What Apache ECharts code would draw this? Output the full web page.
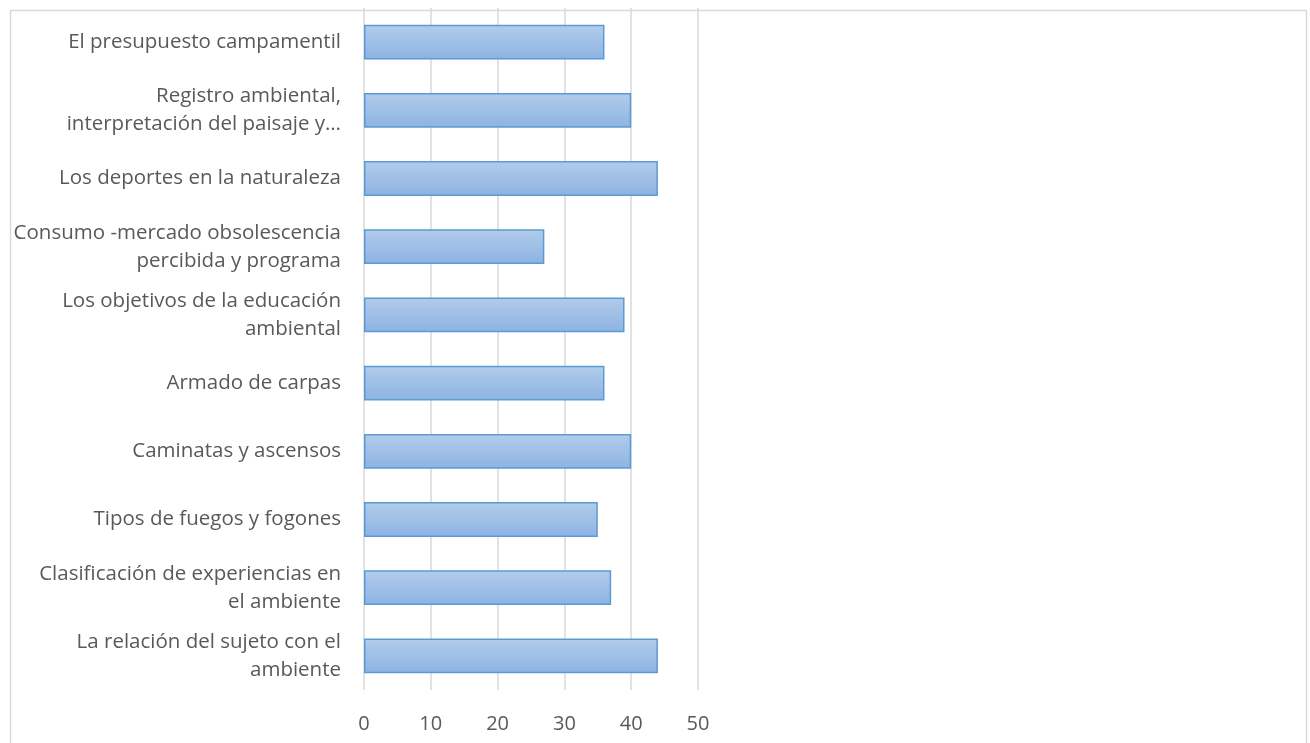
<!DOCTYPE html>
<html>
<head>
<meta charset="utf-8">
<script src="https://cdn.jsdelivr.net/npm/echarts@6/dist/echarts.min.js"></script>
<style>
html,body{margin:0;padding:0;background:#fff;}
#c{width:1310px;height:743px;}
</style>
</head>
<body>
<div id="c"></div>
<script>
const categories = [
  "El presupuesto campamentil",
  "Registro ambiental,\ninterpretación del paisaje y…",
  "Los deportes en la naturaleza",
  "Consumo -mercado obsolescencia\npercibida y programa",
  "Los objetivos de la educación\nambiental",
  "Armado de carpas",
  "Caminatas y ascensos",
  "Tipos de fuegos y fogones",
  "Clasificación de experiencias en\nel ambiente",
  "La relación del sujeto con el\nambiente"
];
const values = [36, 40, 44, 27, 39, 36, 40, 35, 37, 44];
const xTicks = { min: 0, max: 50, interval: 10 };

const chart = echarts.init(document.getElementById('c'));
chart.setOption({
  animation: false,
  backgroundColor: '#ffffff',
  textStyle: { fontFamily: '"Open Sans", sans-serif' },
  graphic: [{
    type: 'rect', left: 8, top: 8,
    shape: { width: 1296, height: 760 },
    style: { fill: 'none', stroke: '#d9d9d9', lineWidth: 1.5 },
    silent: true
  }],
  grid: { left: 364, right: 612, top: 8, bottom: 53, containLabel: false },
  xAxis: {
    type: 'value',
    min: xTicks.min, max: xTicks.max, interval: xTicks.interval,
    axisLine: { show: false },
    axisTick: { show: false },
    splitLine: { show: true, lineStyle: { color: '#d9d9d9', width: 1.5 } },
    axisLabel: { color: '#595959', fontSize: 20, margin: 24, fontFamily: '"Open Sans", sans-serif' }
  },
  yAxis: {
    type: 'category',
    data: categories,
    inverse: true,
    axisLine: { show: false },
    axisTick: { show: false },
    axisLabel: { color: '#595959', fontSize: 20.5, margin: 23, lineHeight: 28, align: 'right', fontFamily: '"Open Sans", sans-serif' }
  },
  series: [{
    type: 'bar',
    data: values,
    barWidth: '51%',
    itemStyle: {
      color: new echarts.graphic.LinearGradient(0, 0, 0, 1, [
        { offset: 0, color: '#b2cceb' },
        { offset: 1, color: '#8db3e2' }
      ]),
      borderColor: '#5b9bd5',
      borderWidth: 1.5
    }
  }]
});
</script>
</body>
</html>
